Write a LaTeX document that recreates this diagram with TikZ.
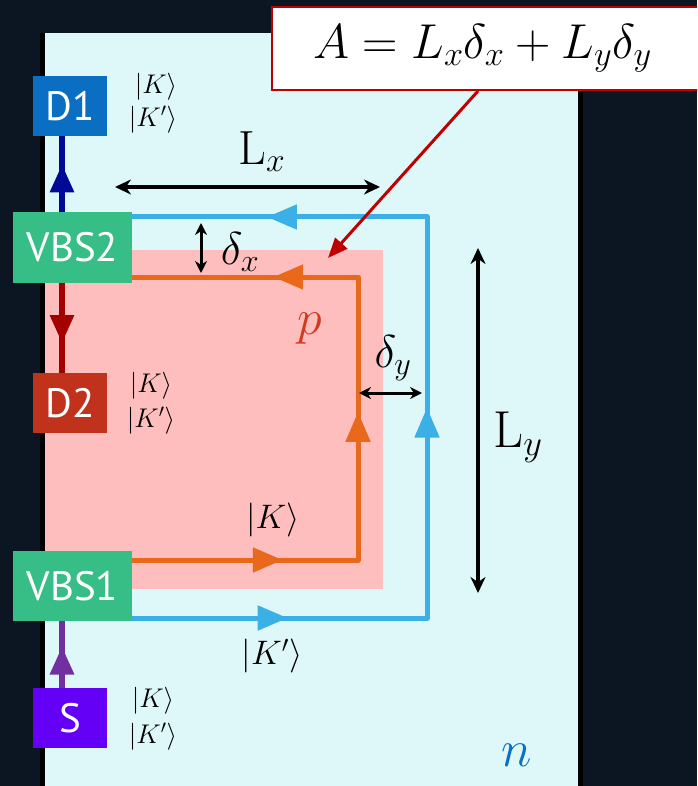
\RequirePackage{fix-cm}
\documentclass[tikz,border=0pt]{standalone}
\usepackage{fontspec}
\newfontfamily\boxfont{PT Sans}
\usepackage{tikz}
\usetikzlibrary{arrows.meta, decorations.markings}
\definecolor{bgdark}{RGB}{11,22,34}
\definecolor{nfill}{RGB}{222,248,249}
\definecolor{pfill}{RGB}{255,190,190}
\definecolor{kline}{RGB}{232,104,28}
\definecolor{kpline}{RGB}{59,176,230}
\definecolor{dblue}{RGB}{10,110,194}
\definecolor{vgreen}{RGB}{54,190,134}
\definecolor{dred}{RGB}{192,50,28}
\definecolor{spurple}{RGB}{100,0,245}
\definecolor{navyline}{RGB}{0,10,150}
\definecolor{redline}{RGB}{165,0,0}
\definecolor{purpleline}{RGB}{112,48,160}
\definecolor{callred}{RGB}{192,0,0}
\definecolor{ptext}{RGB}{208,58,32}
\definecolor{ntext}{RGB}{11,112,192}
\tikzstyle{detector} = [rectangle, minimum width=74pt, minimum height=60pt, inner sep=0pt, text=white, font=\boxfont\fontsize{41}{41}\selectfont]
\tikzstyle{splitter} = [detector, minimum width=119pt, minimum height=70pt]
\tikzstyle{ket} = [inner sep=0pt, font=\fontsize{27}{27}\selectfont]
\tikzstyle{bigket} = [inner sep=0pt, font=\fontsize{34}{34}\selectfont]
\tikzstyle{dimlabel} = [inner sep=0pt, font=\fontsize{46}{46}\selectfont]
\tikzstyle{loop} = [line width=5pt, line join=round]
\tikzstyle{feed} = [line width=6pt]
\tikzstyle{dim} = [line width=3.5pt, {Stealth[length=16pt,width=15pt]}-{Stealth[length=16pt,width=15pt]}]
\tikzstyle{smalldim} = [line width=3pt, {Stealth[length=12pt,width=12pt]}-{Stealth[length=12pt,width=12pt]}]
\tikzset{
  big tri/.tip={Triangle[length=30pt,width=24pt]},
  small tri/.tip={Triangle[length=28pt,width=23pt]},
  marks/.style n args={3}{postaction={decorate}, decoration={markings,
    mark=at position #1 with {\arrow{big tri}},
    mark=at position #2 with {\arrow{big tri}},
    mark=at position #3 with {\arrow{big tri}}}},
  mark one/.style={postaction={decorate}, decoration={markings,
    mark=at position #1 with {\arrow{small tri}}}}
}
\begin{document}
\begin{tikzpicture}[x=1pt, y=-1pt]
    \useasboundingbox (0,0) rectangle (697,786);
    \clip (0,0) rectangle (697,786);
    % regions
    \fill[bgdark] (0,0) rectangle (697,786);
    \fill[nfill] (45,33) rectangle (578,786);
    \fill[pfill] (45,250) rectangle (383,589);
    \draw[line width=5pt] (42.5,33) -- (42.5,786);
    \draw[line width=5pt] (580,33) -- (580,786);

    \node (D1) [detector, fill=dblue] at (70,106) {D1};
    \node (VBS2) [splitter, fill=vgreen] at (72.5,247.5) {VBS2};
    \node (D2) [detector, fill=dred] at (70,403) {D2};
    \node (VBS1) [splitter, fill=vgreen] at (72.5,586) {VBS1};
    \node (S) [detector, fill=spurple] at (70,718) {S};

    \node (k1) [ket] at (156,87) {$|K\rangle$};
    \node (k1p) [ket] at (153,120) {$|K'\rangle$};
    \node (k2) [ket] at (151,386) {$|K\rangle$};
    \node (k2p) [ket] at (151,421) {$|K'\rangle$};
    \node (k3) [ket] at (153,701) {$|K\rangle$};
    \node (k3p) [ket] at (153,737) {$|K'\rangle$};

    % feed lines
    \coordinate (xa) at (62,0);
    \draw[feed, navyline, mark one=0.63] (VBS2.north -| xa) -- (D1.south -| xa);
    \draw[feed, redline, mark one=0.67] (VBS2.south -| xa) -- (D2.north -| xa);
    \draw[feed, purpleline, mark one=0.62] (S.north -| xa) -- (VBS1.south -| xa);

    % edge channels
    \coordinate (kBR) at (358,560);
    \coordinate (kTR) at (358,277);
    \coordinate (kpBR) at (427,618);
    \coordinate (kpTR) at (427,217);
    \draw[loop, kline, marks={0.205}{0.509}{0.808}] (VBS1.east |- kBR) -- (kBR) -- (kTR) -- (VBS2.east |- kTR);
    \draw[loop, kpline, marks={0.157}{0.51}{0.864}] (VBS1.east |- kpBR) -- (kpBR) -- (kpTR) -- (VBS2.east |- kpTR);
    \node (kk) [bigket] at (273,520) {$|K\rangle$};
    \node (kkp) [bigket] at (272,656) {$|K'\rangle$};

    % dimensions
    \coordinate (lxl) at (115,187);
    \coordinate (lxr) at (380,187);
    \draw[dim] (lxl) -- (lxr);
    \node (Lx) [dimlabel, font=\fontsize{48}{48}\selectfont] at (262,152) {$\mathrm{L}_x$};
    \coordinate (lyt) at (478,248);
    \coordinate (lyb) at (478,593);
    \draw[dim] (lyt) -- (lyb);
    \node (Ly) [dimlabel, font=\fontsize{52}{52}\selectfont] at (518,437) {$\mathrm{L}_y$};
    \coordinate (dxt) at (201,223);
    \coordinate (dxb) at (201,273);
    \draw[smalldim] (dxt) -- (dxb);
    \node (dx) [dimlabel] at (240,252) {$\delta_x$};
    \coordinate (dyl) at (359,393);
    \coordinate (dyr) at (422,393);
    \draw[smalldim] (dyl) -- (dyr);
    \node (dy) [dimlabel] at (393,358) {$\delta_y$};

    \node (p) [inner sep=0pt, text=ptext, font=\fontsize{50}{50}\selectfont] at (310,329) {$p$};
    \node (n) [inner sep=0pt, text=ntext, font=\fontsize{52}{52}\selectfont] at (517,755) {$n$};

    % area formula
    \node (area) [draw=callred, line width=2pt, fill=white, anchor=west, minimum height=83pt, text width=420pt, align=left, inner xsep=41pt, font=\fontsize{49}{49}\selectfont] at (271,48.5) {$A = L_x\delta_x + L_y\delta_y$};
    \coordinate (ptip) at (328,258);
    \draw[callred, line width=3pt, -{Triangle[length=20pt,width=16pt]}] (area.south -| 478,0) -- (ptip);
\end{tikzpicture}
\end{document}
